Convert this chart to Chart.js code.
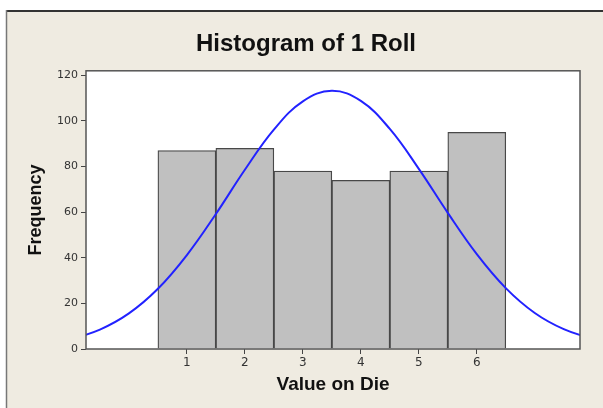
<!DOCTYPE html>
<html>
<head>
<meta charset="utf-8">
<script src="https://cdn.jsdelivr.net/npm/chart.js@4.4.1/dist/chart.umd.min.js"></script>
<style>
  body { margin: 0; background: #fff; }
  #wrap { width: 603px; height: 408px; }
</style>
</head>
<body>
<div id="wrap"><canvas id="myChart" width="603" height="408"></canvas></div>
<script>
// histogram counts for each face of the die
const dieValues = [1, 2, 3, 4, 5, 6];
const counts = [87, 88, 78, 74, 78, 95];

// fitted normal curve, every half unit
const curveX = [-1, -0.5, 0, 0.5, 1, 1.5, 2, 2.5, 3, 3.5, 4, 4.5, 5, 5.5, 6, 6.5, 7, 7.5, 8];
const curveY = [4.3, 8.5, 15.6, 26.4, 41.2, 59.2, 78.6, 96.2, 108.6, 113.2, 108.8, 96.5, 79.0, 59.7, 41.6, 26.7, 15.8, 8.7, 4.4];

const yTicks = [0, 20, 40, 60, 80, 100, 120];

const labelFont = { family: 'Liberation Sans', size: 18, weight: 'bold' };

const frame = {
    id: 'frame',
    beforeDraw(chart) {
        const { ctx, width, height, chartArea: a } = chart;
        ctx.save();
        ctx.fillStyle = '#fff';
        ctx.fillRect(0, 0, width, height);
        ctx.fillStyle = '#efebe1';
        ctx.fillRect(6, 10, width - 6, height - 10);
        ctx.fillStyle = '#fff';
        ctx.fillRect(a.left, a.top, a.right - a.left, a.bottom - a.top);
        ctx.strokeStyle = '#333';
        ctx.lineWidth = 2;
        ctx.beginPath();
        ctx.moveTo(6, 11);
        ctx.lineTo(width, 11);
        ctx.stroke();
        ctx.strokeStyle = '#777';
        ctx.lineWidth = 1.5;
        ctx.beginPath();
        ctx.moveTo(6.5, 10);
        ctx.lineTo(6.5, height);
        ctx.stroke();
        ctx.restore();
    },
    afterDatasetsDraw(chart) {
        const { ctx, chartArea: a } = chart;
        ctx.save();
        ctx.strokeStyle = '#555';
        ctx.lineWidth = 1.5;
        ctx.strokeRect(a.left, a.top, a.right - a.left, a.bottom - a.top);
        ctx.restore();
    }
};

const ctx = document.getElementById('myChart').getContext('2d');

new Chart(ctx, {
    type: 'bar',
    data: {
        datasets: [{
            type: 'line',
            data: curveX.map((x, i) => ({ x: x, y: curveY[i] })),
            borderColor: '#2222ff',
            borderWidth: 2,
            pointRadius: 0,
            tension: 0.4,
            order: 0
        }, {
            type: 'bar',
            data: dieValues.map((x, i) => ({ x: x, y: counts[i] })),
            backgroundColor: '#c0c0c0',
            borderColor: '#484848',
            borderWidth: 1.3,
            barPercentage: 1,
            categoryPercentage: 1,
            order: 1
        }]
    },
    options: {
        responsive: false,
        animation: false,
        layout: { padding: { left: 9, top: 0, right: 0, bottom: 0 } },
        plugins: {
            legend: { display: false },
            tooltip: { enabled: false },
            title: {
                display: true,
                text: 'Histogram of 1 Roll',
                color: '#111',
                font: { family: 'Liberation Sans', size: 24, weight: 'bold' },
                padding: { top: 30, bottom: 12 }
            }
        },
        scales: {
            x: {
                type: 'linear',
                min: -0.74,
                max: 7.78,
                offset: false,
                grid: { offset: false, drawOnChartArea: false, tickLength: 5, color: '#444' },
                border: { display: false },
                ticks: { font: { family: 'DejaVu Sans', size: 12 }, color: '#333', padding: 2 },
                afterBuildTicks: s => { s.ticks = dieValues.map(v => ({ value: v })); },
                afterFit: s => { s.height = 59; },
                title: {
                    display: true,
                    text: 'Value on Die',
                    color: '#111',
                    font: { family: 'Liberation Sans', size: 19, weight: 'bold' },
                    padding: { top: 0, bottom: 12 }
                }
            },
            y: {
                type: 'linear',
                min: 0,
                max: 122,
                grid: { drawOnChartArea: false, tickLength: 5, color: '#444' },
                border: { display: false },
                ticks: { font: { family: 'DejaVu Sans', size: 11 }, color: '#333', padding: 3 },
                afterBuildTicks: s => { s.ticks = yTicks.map(v => ({ value: v })); },
                afterFit: s => { s.width = 77; },
                title: {
                    display: true,
                    text: 'Frequency',
                    color: '#111',
                    font: labelFont,
                    padding: { top: 16, bottom: 0 }
                }
            },
            y2: {
                type: 'linear',
                position: 'right',
                grid: { display: false },
                border: { display: false },
                ticks: { display: false },
                afterFit: s => { s.width = 23; }
            }
        }
    },
    plugins: [frame]
});
</script>
</body>
</html>
